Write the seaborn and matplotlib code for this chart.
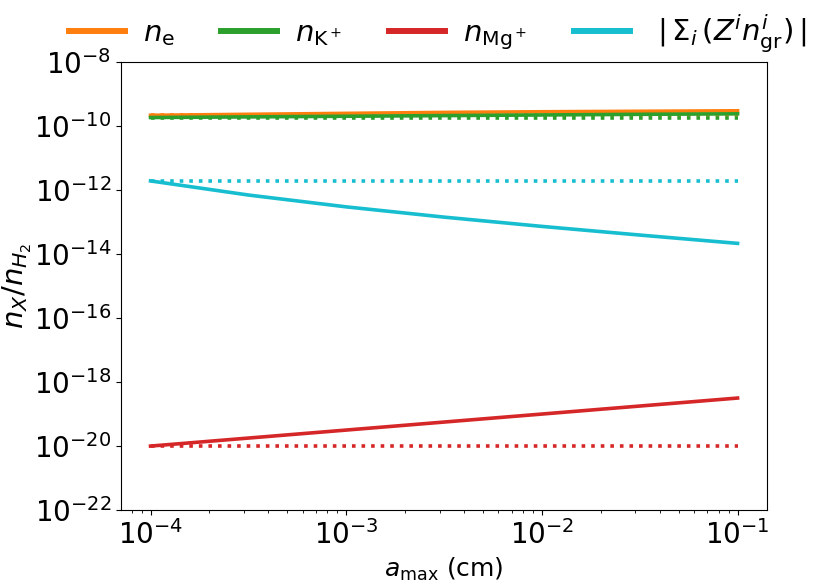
import numpy as np
import pandas as pd
import matplotlib
matplotlib.use("Agg")
import matplotlib.pyplot as plt
import seaborn as sns
from matplotlib.lines import Line2D
from matplotlib.ticker import NullLocator, LogFormatterMathtext

# grain maximum size (cm)
a_max = [1e-4, 3.16e-4, 1e-3, 3.16e-3, 1e-2, 3.16e-2, 1e-1]

# log10 abundances (solid = varying a_max)
log_ne = [-9.67, -9.64, -9.61, -9.58, -9.56, -9.545, -9.53]
log_nK = [-9.74, -9.72, -9.70, -9.68, -9.66, -9.64, -9.625]
log_nMg = [-20.0, -19.75, -19.5, -19.25, -19.0, -18.75, -18.5]
log_grain = [-11.72, -12.16, -12.53, -12.85, -13.14, -13.41, -13.67]

# reference (dotted) constant levels
log_ne_ref = -9.67
log_nK_ref = -9.75
log_nMg_ref = -20.0
log_grain_ref = -11.72

labels = [r'$n_{\rm e}$', r'$n_{\rm K^+}$', r'$n_{\rm Mg^+}$',
          r' $|\,\Sigma_i\,(Z^i n^i_{\rm gr})\,|$']
colors = ['tab:orange', 'tab:green', 'tab:red', 'tab:cyan']

fig = plt.figure(figsize=(8.3, 5.83), dpi=100)
ax = fig.add_axes([0.146, 0.125, 0.778, 0.769])

series = [log_ne, log_nK, log_nMg, log_grain]
refs = [log_ne_ref, log_nK_ref, log_nMg_ref, log_grain_ref]
for vals, ref, col, lab in zip(series, refs, colors, labels):
    df = pd.DataFrame({'a': a_max, 'n': [10 ** v for v in vals]})
    dref = pd.DataFrame({'a': a_max, 'n': [10 ** ref] * len(a_max)})
    sns.lineplot(data=df, x='a', y='n', color=col, lw=2.6, ax=ax)
    sns.lineplot(data=dref, x='a', y='n', color=col, lw=2.6, ls=':', ax=ax)

ax.set_xscale('log')
ax.set_yscale('log')
ax.set_ylim(1e-22, 1e-8)
ax.set_yticks([10.0 ** k for k in range(-22, -7, 2)])
ax.yaxis.set_major_formatter(LogFormatterMathtext())
ax.yaxis.set_minor_locator(NullLocator())
ax.tick_params(axis='both', which='major', labelsize=20)
ax.set_xlabel(r'$a_{\rm max}$ (cm)', fontsize=18)
ax.set_ylabel(r'$n_X/n_{H_2}$', fontsize=21, labelpad=0)

handles = [Line2D([0], [0], color=c, lw=4.3) for c in colors]
ax.legend(handles, labels, loc='center', bbox_to_anchor=(0.49, 1.0625),
          ncol=4, frameon=False, fontsize=21, handlelength=1.92,
          handletextpad=0.62, columnspacing=1.6, borderaxespad=0)

fig.savefig('out.png', dpi=100)
